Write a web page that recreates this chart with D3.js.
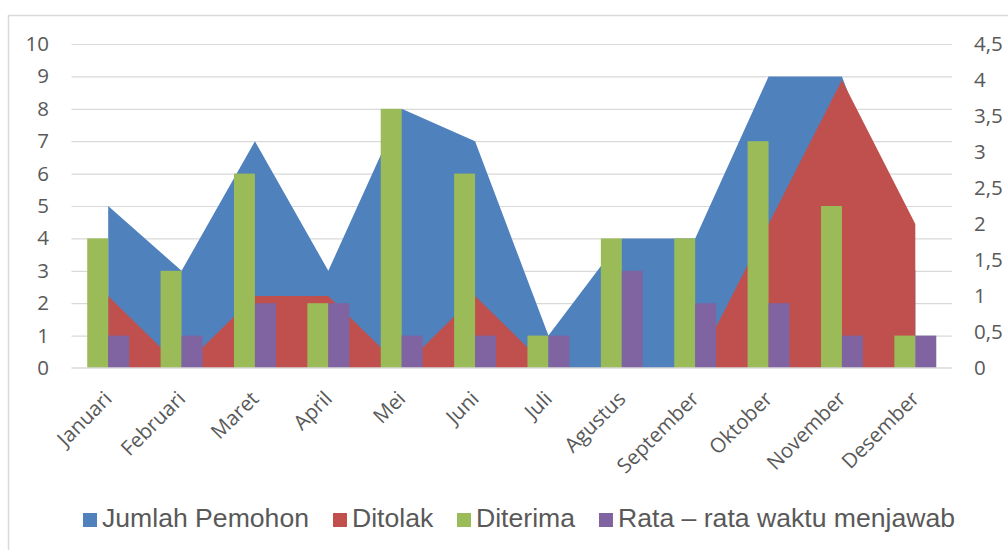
<!DOCTYPE html>
<meta charset="utf-8">
<style>
  body { margin: 0; background: #fff; }
  .tick text { font-family: "Open Sans", sans-serif; fill: #595959; }
  .legend text { font-family: "Liberation Sans", Arial, sans-serif; font-size: 26.6px; fill: #595959; }
</style>
<svg width="1008" height="550"></svg>
<script src="https://cdn.jsdelivr.net/npm/d3@7"></script>
<script>
// data
var bulan = ["Januari", "Februari", "Maret", "April", "Mei", "Juni", "Juli",
             "Agustus", "September", "Oktober", "November", "Desember"];
var jumlahPemohon = [5, 3, 7, 3, 8, 7, 1, 4, 4, 9, 9, 3];
var ditolak = [1, 0, 1, 1, 0, 1, 0, 0, 0, 2, 4, 2];          // secondary axis
var diterima = [4, 3, 6, 2, 8, 6, 1, 4, 4, 7, 5, 1];
var rataWaktu = [1, 1, 2, 2, 1, 1, 1, 3, 2, 2, 1, 1];
var ticksKiri = [0, 1, 2, 3, 4, 5, 6, 7, 8, 9, 10];
var ticksKanan = [0, 0.5, 1, 1.5, 2, 2.5, 3, 3.5, 4, 4.5];

var warna = { pemohon: "#4f81bd", ditolak: "#c0504d", diterima: "#9bbb59", rata: "#8064a2" };
var grid = "#d9d9d9";

var svg = d3.select("svg");

// chart border
svg.append("rect")
    .attr("x", 8.5).attr("y", 15.5)
    .attr("width", 1100).attr("height", 600)
    .attr("fill", "none").attr("stroke", grid).attr("stroke-width", 1.5);

var pL = 71.5, pR = 952, pT = 44, pB = 368;

var x = d3.scaleBand().domain(bulan).range([pL, pR]);
var yL = d3.scaleLinear().domain([0, 10]).range([pB, pT]);
var yR = d3.scaleLinear().domain([0, 4.5]).range([pB, pT]);
var cx = function(d, i) { return x(bulan[i]) + x.bandwidth() / 2; };

// gridlines
svg.append("g")
    .attr("transform", "translate(" + pL + ",0)")
    .call(d3.axisLeft(yL).tickValues(ticksKiri.slice(1)).tickSize(-(pR - pL)).tickFormat(""))
    .call(function(g) { g.select(".domain").remove(); })
    .selectAll("line").attr("stroke", grid).attr("stroke-width", 1.2);

// areas
var areaL = d3.area().x(cx).y0(pB).y1(function(d) { return yL(d); });
var areaR = d3.area().x(cx).y0(pB).y1(function(d) { return yR(d); });

svg.append("path").datum(jumlahPemohon).attr("d", areaL).attr("fill", warna.pemohon);
svg.append("path").datum(ditolak).attr("d", areaR).attr("fill", warna.ditolak);

// bars (gap width 150%)
var bw = x.step() / 3.5;
svg.append("g").selectAll("rect").data(diterima).join("rect")
    .attr("x", function(d, i) { return cx(d, i) - bw; })
    .attr("y", function(d) { return yL(d); })
    .attr("width", bw)
    .attr("height", function(d) { return pB - yL(d); })
    .attr("fill", warna.diterima);

svg.append("g").selectAll("rect").data(rataWaktu).join("rect")
    .attr("x", function(d, i) { return cx(d, i); })
    .attr("y", function(d) { return yL(d); })
    .attr("width", bw)
    .attr("height", function(d) { return pB - yL(d); })
    .attr("fill", warna.rata);

// x axis line
svg.append("line")
    .attr("x1", pL).attr("x2", pR)
    .attr("y1", pB).attr("y2", pB)
    .attr("stroke", grid).attr("stroke-width", 1.5);

// left axis
var axL = svg.append("g")
    .attr("transform", "translate(49,0)")
    .call(d3.axisLeft(yL).tickValues(ticksKiri).tickSize(0).tickPadding(0));
axL.select(".domain").remove();
axL.selectAll("text").style("font-size", "20.5px");

// right axis
var koma = d3.formatLocale({ decimal: ",", thousands: ".", grouping: [3], currency: ["", ""] });
var axR = svg.append("g")
    .attr("transform", "translate(974,0)")
    .call(d3.axisRight(yR).tickValues(ticksKanan).tickSize(0).tickPadding(0).tickFormat(koma.format("~g")));
axR.select(".domain").remove();
axR.selectAll("text").style("font-size", "20.5px");

// category labels
var axX = svg.append("g")
    .attr("transform", "translate(0," + pB + ")")
    .call(d3.axisBottom(x).tickSize(0).tickPadding(0));
axX.select(".domain").remove();
axX.selectAll("text")
    .style("font-size", "20.5px")
    .attr("text-anchor", "end")
    .attr("dy", 0)
    .attr("transform", "translate(5,32) rotate(-45)");

// legend
var legendItems = [
  { label: "Jumlah Pemohon", color: warna.pemohon, x: 83 },
  { label: "Ditolak", color: warna.ditolak, x: 333 },
  { label: "Diterima", color: warna.diterima, x: 457 },
  { label: "Rata \u2013 rata waktu menjawab", color: warna.rata, x: 599 }
];
var lg = svg.append("g").attr("class", "legend")
    .selectAll("g").data(legendItems).join("g")
    .attr("transform", function(d) { return "translate(" + d.x + ",513)"; });
lg.append("rect").attr("width", 14).attr("height", 14).attr("fill", function(d) { return d.color; });
lg.append("text").attr("x", 19).attr("y", 14).text(function(d) { return d.label; });
</script>
